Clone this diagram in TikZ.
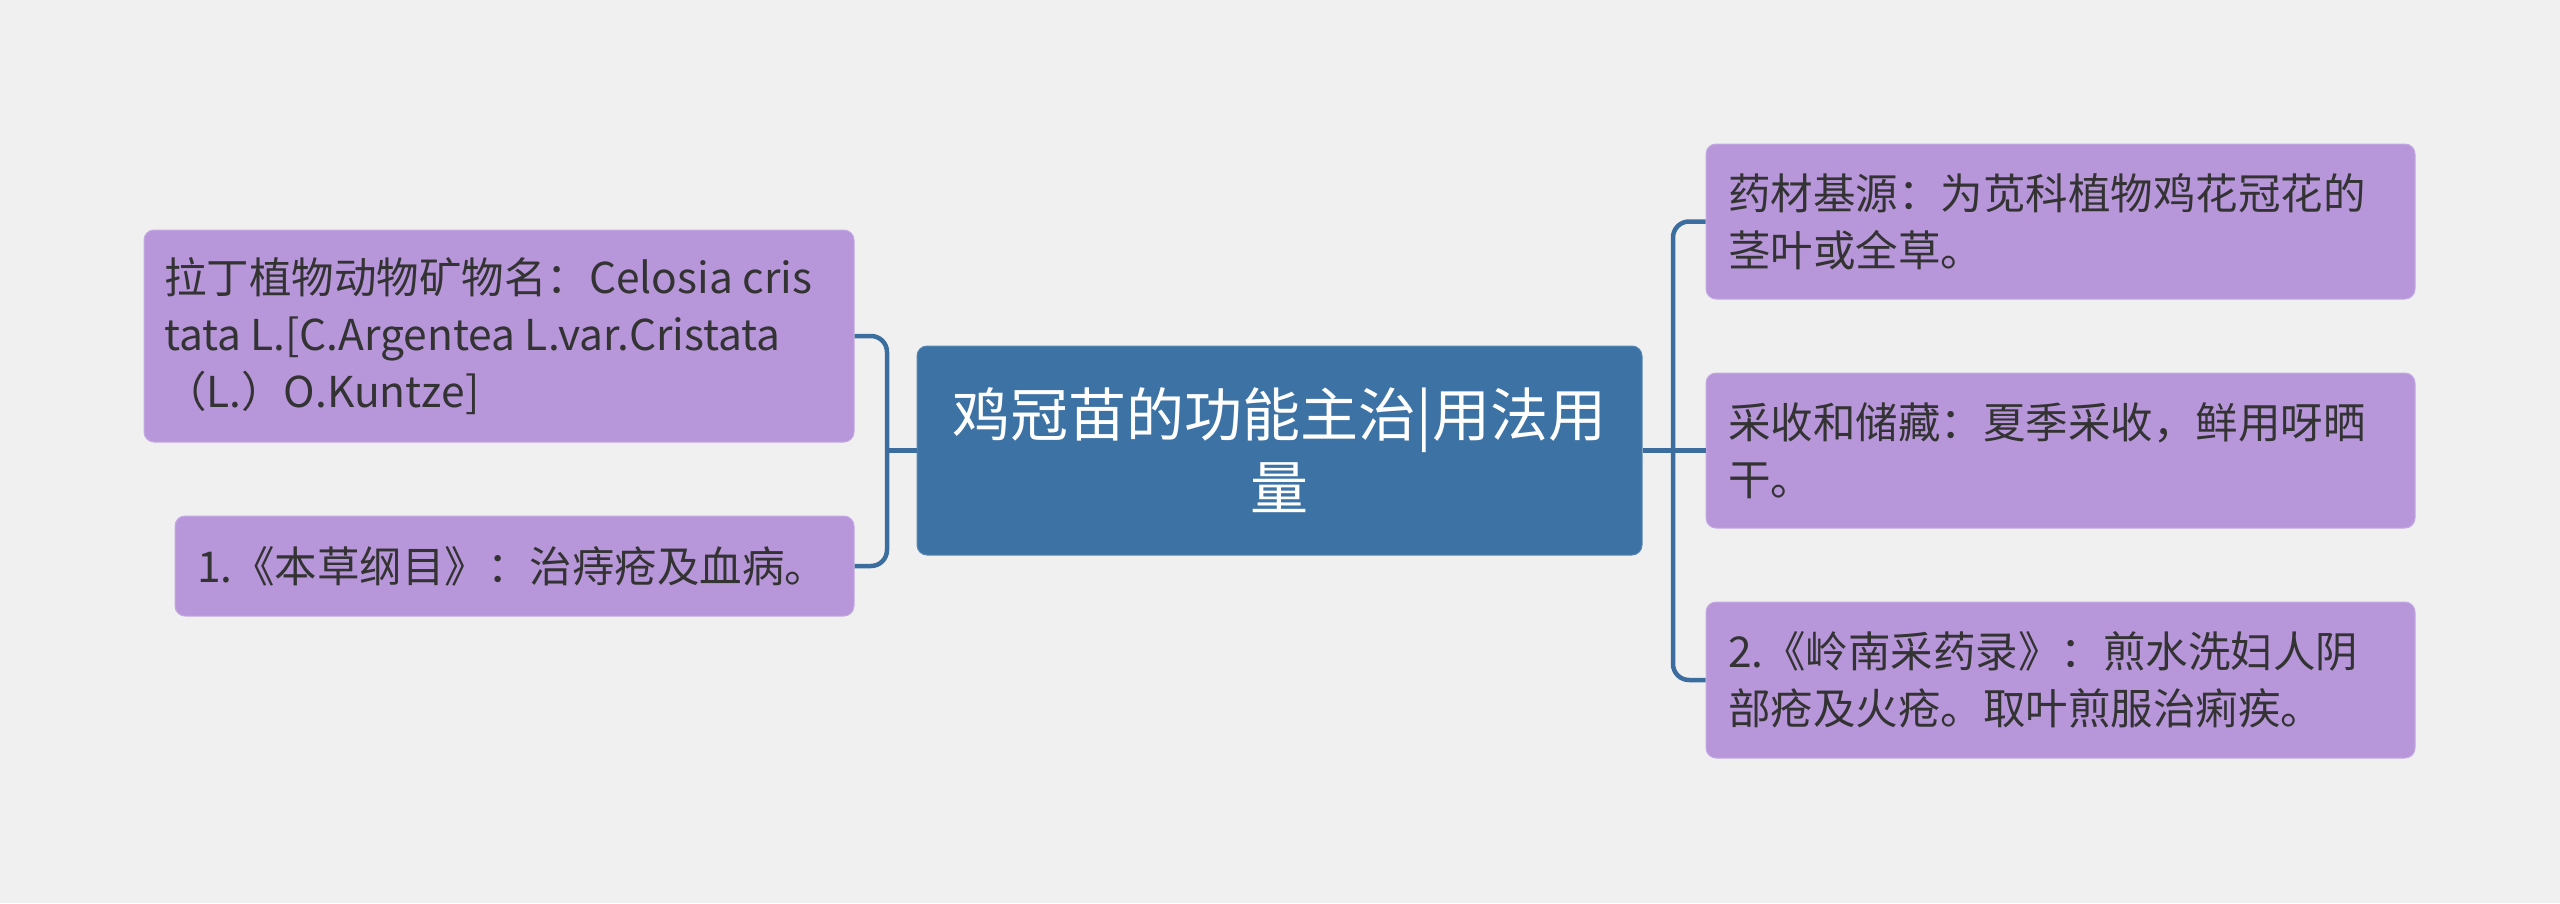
\documentclass[tikz,border=0pt]{standalone}
\usepackage{fontspec}
\setmainfont{Noto Sans CJK SC}
\newcommand{\wsp}{\hspace{0.22em}}
\definecolor{bg}{HTML}{F0F0F0}
\definecolor{mainblue}{HTML}{3D72A4}
\definecolor{leaf}{HTML}{B797DA}
\definecolor{leafedge}{HTML}{C4AAE2}
\definecolor{linec}{HTML}{3B6E9F}
\definecolor{txt}{HTML}{333333}
\tikzset{
  leafbox/.style={fill=leaf, draw=leafedge, line width=1pt, rounded corners=10pt, text=txt, align=left,
    font=\fontsize{42.5}{57}\selectfont, inner xsep=0pt, inner ysep=0pt, anchor=center},
  centerbox/.style={fill=mainblue, draw=mainblue!85!white, line width=1pt, rounded corners=10pt, text=white, align=center,
    font=\fontsize{58}{73}\selectfont, inner sep=0pt, anchor=center},
  conn/.style={draw=linec, line width=4.5pt, rounded corners=16pt}
}
\begin{document}
\begin{tikzpicture}[x=1pt,y=-1pt]
\fill[bg] (0,0) rectangle (2560,903);
\useasboundingbox (0,0) rectangle (2560,903);

\node[centerbox, minimum width=725pt, minimum height=209pt, text width=680pt] (c) at (1279.5,450.5)
  {鸡冠苗的功能主治|用法用\\量};

\node[leafbox, minimum width=710pt, minimum height=212pt, text width=670pt] (l1) at (499,336)
  {拉丁植物动物矿物名：Celosia\wsp cris\\tata\wsp L.[C.Argentea\wsp L.var.Cristata\\（L.）O.Kuntze]};
\node[leafbox, minimum width=679pt, minimum height=100pt, text width=635pt] (l2) at (514.5,566)
  {1.《本草纲目》：治痔疮及血病。};

\node[leafbox, minimum width=709pt, minimum height=155pt, text width=665pt] (r1) at (2060.5,221.5)
  {药材基源：为苋科植物鸡花冠花的\\茎叶或全草。};
\node[leafbox, minimum width=709pt, minimum height=155pt, text width=665pt] (r2) at (2060.5,450.5)
  {采收和储藏：夏季采收，鲜用呀晒\\干。};
\node[leafbox, minimum width=709pt, minimum height=156pt, text width=665pt] (r3) at (2060.5,680)
  {2.《岭南采药录》：煎水洗妇人阴\\部疮及火疮。取叶煎服治痢疾。};

\coordinate (lj) at (887,450.5);
\coordinate (rj) at (1673,450.5);

\draw[conn] (c.west) -- (lj);
\draw[conn] (l1.east) -| (lj) |- (l2.east);
\draw[conn] (c.east) -- (r2.west);
\draw[conn] (r1.west) -| (rj) |- (r3.west);
\end{tikzpicture}
\end{document}
